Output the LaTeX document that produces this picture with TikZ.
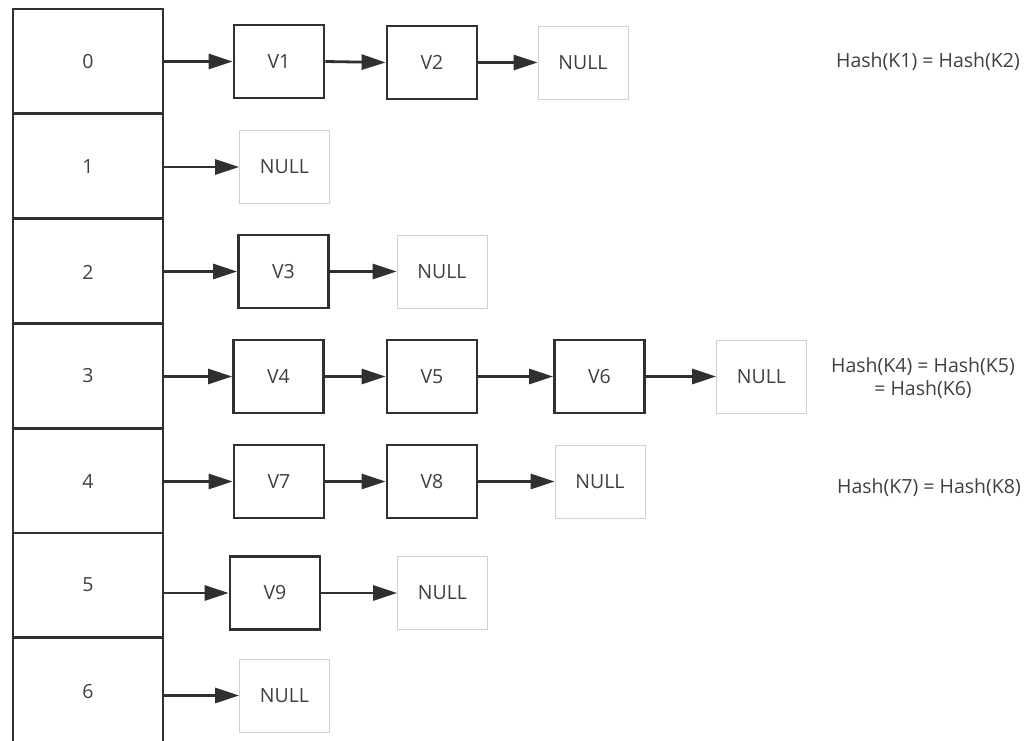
\documentclass[tikz,border=0pt]{standalone}
\usepackage{fontspec}
\setmainfont{Open Sans}
\usetikzlibrary{arrows.meta}
\definecolor{ink}{HTML}{303030}
\definecolor{txt}{HTML}{404040}
\definecolor{thin}{HTML}{D0D0D0}
\begin{document}
\begin{tikzpicture}[x=1pt,y=-1pt,
  every node/.style={font=\fontsize{19.5}{23}\selectfont, text=txt},
  cell/.style={draw=ink, line width=2.8pt, minimum width=150pt, minimum height=104.8pt, inner sep=0pt},
  vbox/.style={draw=ink, line width=2.8pt, minimum width=90pt, minimum height=73pt, inner sep=0pt},
  nbox/.style={draw=thin, line width=0.8pt, minimum width=90pt, minimum height=73pt, inner sep=0pt},
  arr/.style={draw=ink, line width=2.8pt, -{Triangle[length=24pt,width=15pt]}},
  lbl/.style={align=center}]
\useasboundingbox (0,0) rectangle (1036,740);
\clip (0,0) rectangle (1036,740);
\fill[white] (0,0) rectangle (1036,740);
% table cells
\node[cell] (c0) at (88,61.4) {};
\node[cell] (c1) at (88,166.2) {};
\node[cell] (c2) at (88,271.0) {};
\node[cell] (c3) at (88,375.8) {};
\node[cell] (c4) at (88,480.6) {};
\node[cell] (c5) at (88,585.4) {};
\node[cell] (c6) at (88,690.2) {};
\node (l0) at (88,62) {0};
\node (l1) at (88,167) {1};
\node (l2) at (88,272) {2};
\node (l3) at (88,376) {3};
\node (l4) at (88,481) {4};
\node (l5) at (88,585) {5};
\node (l6) at (88,692) {6};
% row 0
\node[vbox] (v1) at (279,61.5) {V1};
\node[vbox] (v2) at (432,62.5) {V2};
\node[nbox] (n0) at (583,62.5) {NULL};
% row 1
\node[nbox] (n1) at (284.5,167) {NULL};
% row 2
\node[vbox] (v3) at (283.5,271.5) {V3};
\node[nbox] (n2) at (442,271.5) {NULL};
% row 3
\node[vbox] (v4) at (278.5,376.5) {V4};
\node[vbox] (v5) at (432,376.5) {V5};
\node[vbox] (v6) at (599.5,376.5) {V6};
\node[nbox] (n3) at (761.5,376.5) {NULL};
% row 4
\node[vbox] (v7) at (279,481.5) {V7};
\node[vbox] (v8) at (432,481.5) {V8};
\node[nbox] (n4) at (600,481.5) {NULL};
% row 5
\node[vbox] (v9) at (275,593) {V9};
\node[nbox] (n5) at (442.5,593) {NULL};
% row 6
\node[nbox] (n6) at (284.5,695.5) {NULL};
% arrows
\draw[arr] (c0.east |- v1.west) -- (v1.west);
\draw[arr] (v1.east) -- (v2.west);
\draw[arr] (v2.east) -- (n0.west);
\draw[arr] (c1.east |- n1.west) -- (n1.west);
\draw[arr] (c2.east |- v3.west) -- (v3.west);
\draw[arr] (v3.east) -- (n2.west);
\draw[arr] (c3.east |- v4.west) -- (v4.west);
\draw[arr] (v4.east) -- (v5.west);
\draw[arr] (v5.east) -- (v6.west);
\draw[arr] (v6.east) -- (n3.west);
\draw[arr] (c4.east |- v7.west) -- (v7.west);
\draw[arr] (v7.east) -- (v8.west);
\draw[arr] (v8.east) -- (n4.west);
\draw[arr] (c5.east |- v9.west) -- (v9.west);
\draw[arr] (v9.east) -- (n5.west);
\draw[arr] (c6.east |- n6.west) -- (n6.west);
% notes
\node[lbl] (h1) at (928,62) {Hash(K1) = Hash(K2)};
\node[lbl] (h2) at (923,378) {Hash(K4) = Hash(K5)\\= Hash(K6)};
\node[lbl] (h3) at (929,488) {Hash(K7) = Hash(K8)};
\end{tikzpicture}
\end{document}
